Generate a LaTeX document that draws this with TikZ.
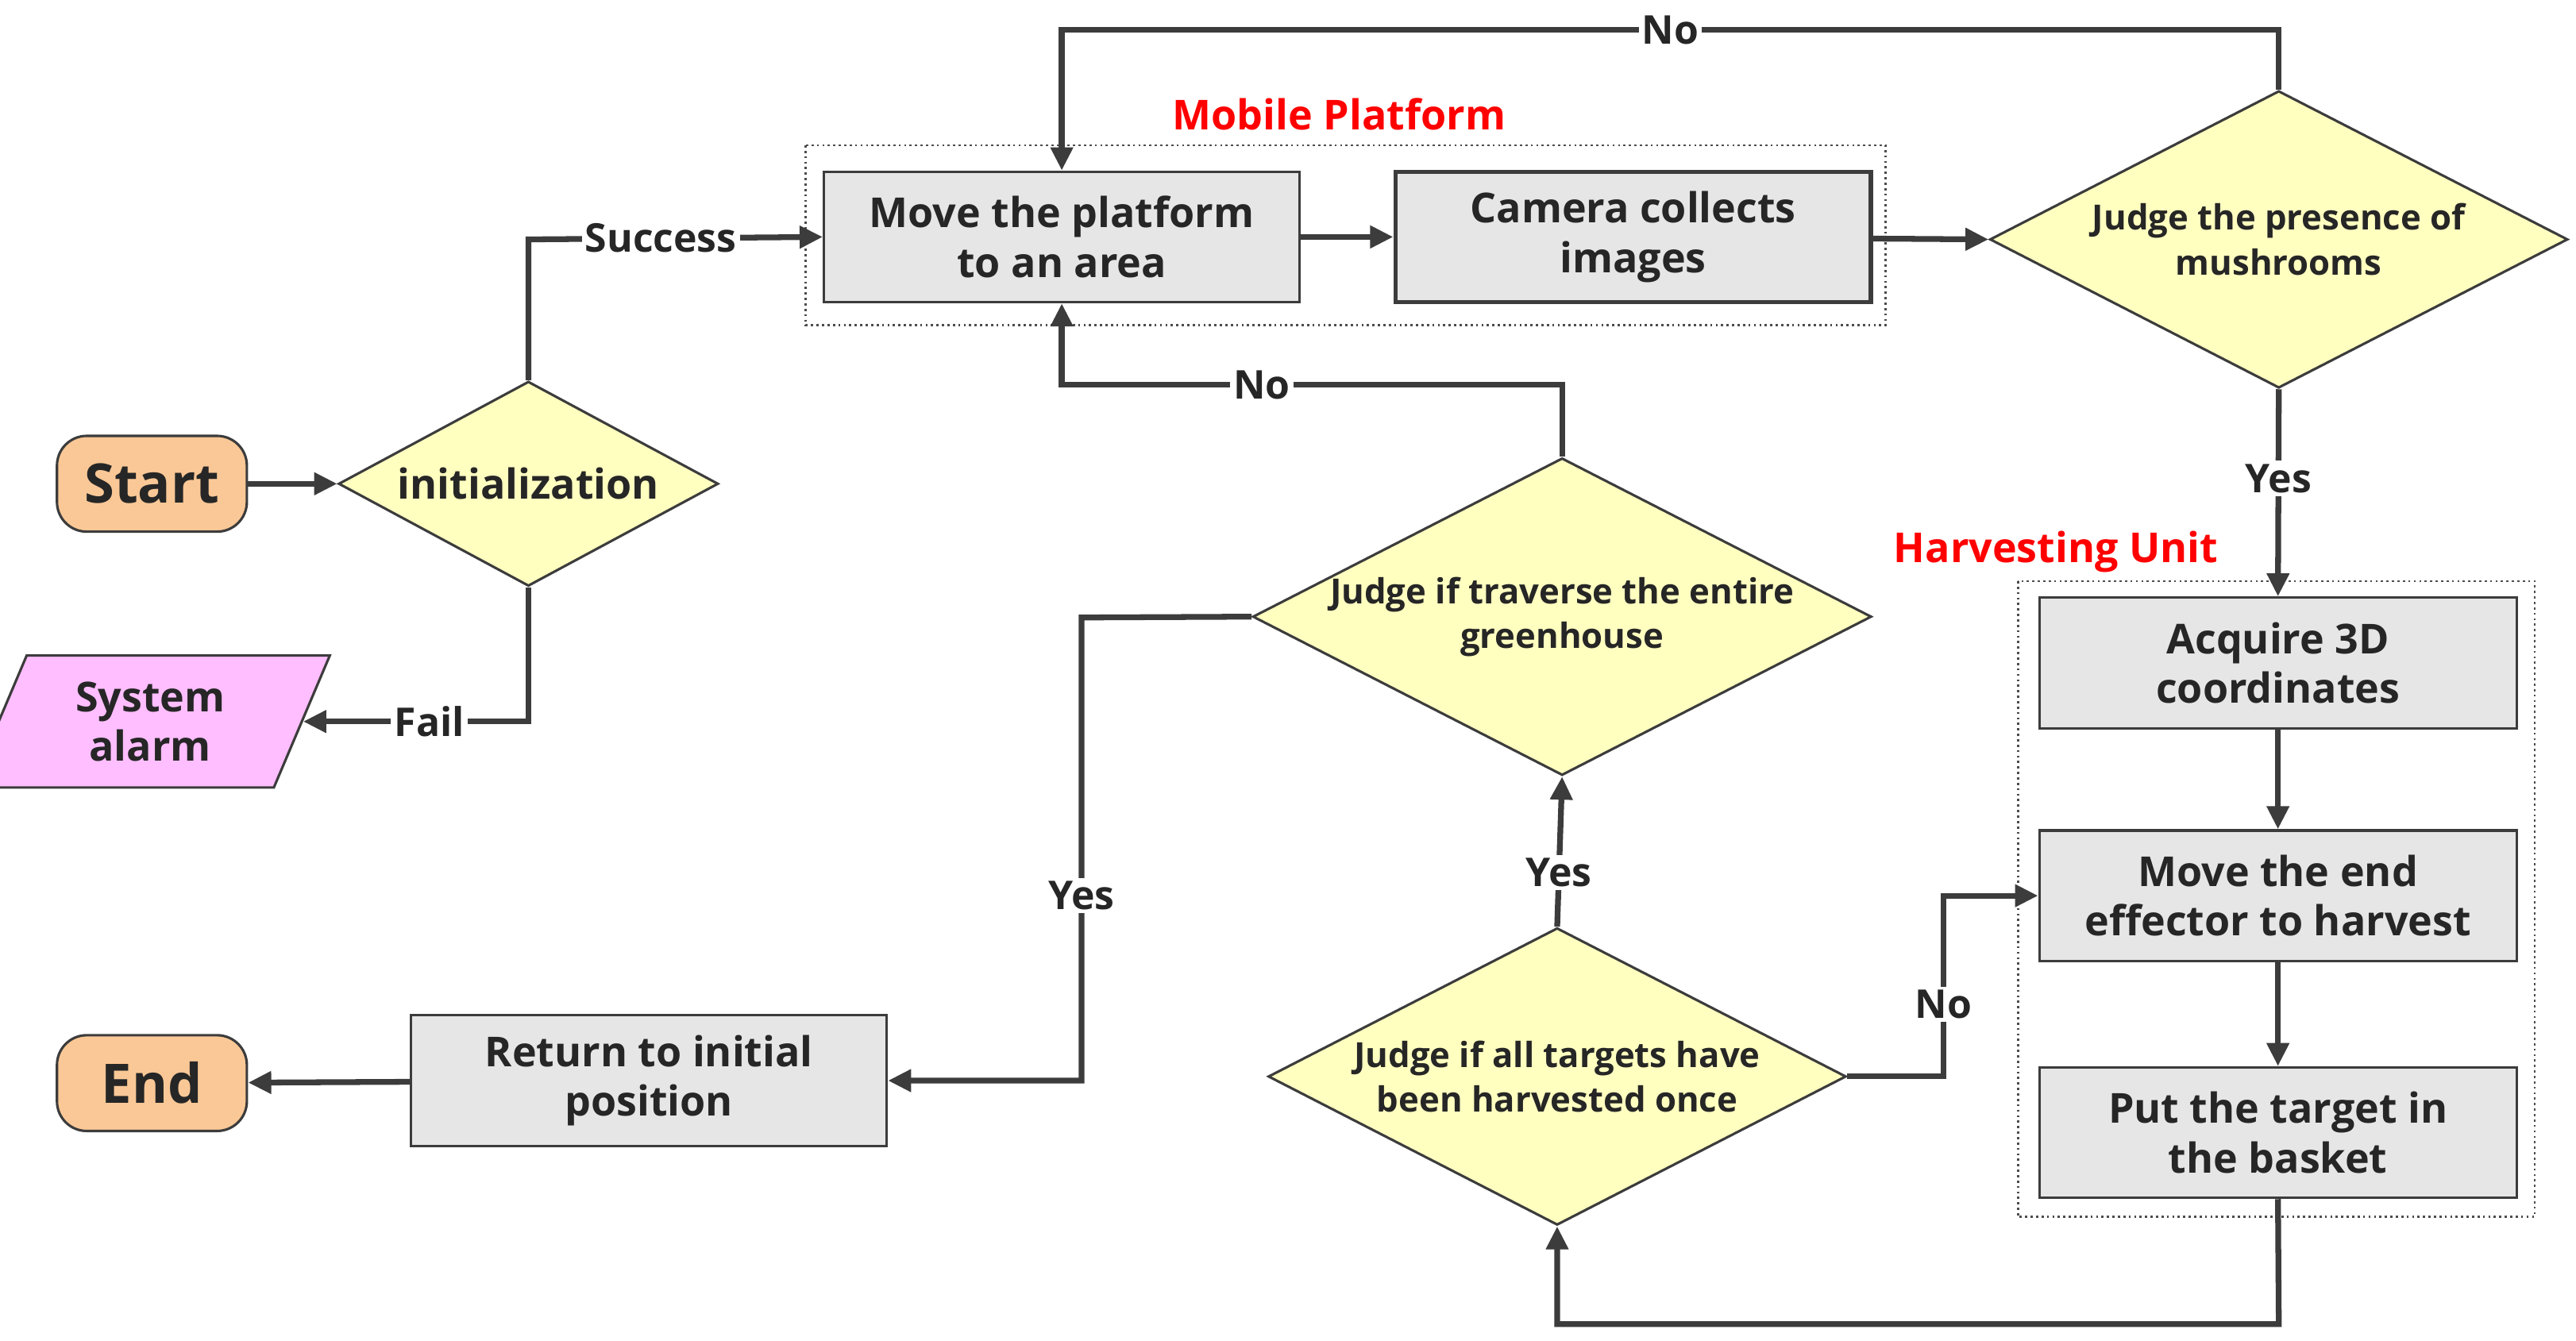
\documentclass[tikz,border=0pt]{standalone}
\usepackage{fontspec}
\setmainfont{Open Sans}
\usetikzlibrary{arrows.meta,shapes.geometric}
\definecolor{gbox}{RGB}{230,230,230}
\definecolor{ybox}{RGB}{255,255,192}
\definecolor{obox}{RGB}{250,200,150}
\definecolor{pbox}{RGB}{255,190,255}
\definecolor{lc}{RGB}{60,60,60}
\begin{document}
\begin{tikzpicture}[x=1pt,y=-1pt,
 line/.style={draw=lc,line width=3.5pt,-{Triangle[length=14pt,width=13pt]}},
 rbox/.style={draw=lc,line width=1.5pt,fill=gbox,minimum width=288pt,minimum height=79pt,align=center,font=\fontsize{25}{30}\selectfont\bfseries,text=black!85},
 dia/.style={diamond,aspect=1.95,draw=lc,line width=1.5pt,fill=ybox,inner sep=0pt,align=center,font=\fontsize{21}{27}\selectfont\bfseries,text=black!85},
 term/.style={rounded corners=18pt,draw=lc,line width=1.5pt,fill=obox,minimum width=115pt,minimum height=58pt,font=\fontsize{33}{36}\selectfont\bfseries,text=black!85},
 lab/.style={fill=white,inner sep=2pt,font=\fontsize{24}{28}\selectfont\bfseries,text=black!85},
 grp/.style={draw=black!70,dotted,line width=1.3pt},
 red/.style={text=red,font=\fontsize{25}{30}\selectfont\bfseries}]
\useasboundingbox (0,0) rectangle (1560,812);
\draw[grp] (488,88) rectangle (1142,197);
\draw[grp] (1222,352) rectangle (1535,737);
\node[red] (mp) at (811,69) {Mobile Platform};
\node[red] (hu) at (1245,334) {Harvesting Unit};
\node[term] (start) at (92,293) {Start};
\node[term] (end) at (92,656) {End};
\node[dia,minimum width=230pt,minimum height=124pt,font=\fontsize{25}{30}\selectfont\bfseries] (init) at (320,293) {initialization};
\node[trapezium,trapezium left angle=67,trapezium right angle=113,draw=lc,line width=1.5pt,fill=pbox,minimum width=157pt,minimum height=80pt,align=center,inner sep=0pt,font=\fontsize{25}{30}\selectfont\bfseries,text=black!85] (alarm) at (91,437) {System\\alarm};
\node[rbox] (move) at (643,143.5) {Move the platform\\to an area};
\node[rbox,line width=2.5pt] (cam) at (989,143.5) {Camera collects\\images};
\node[dia,minimum width=350pt,minimum height=180pt] (pres) at (1380,145) {Judge the presence of\\mushrooms};
\node[rbox,minimum width=289pt] (acq) at (1379.5,401.5) {Acquire 3D\\coordinates};
\node[rbox,minimum width=289pt] (eff) at (1379.5,542.5) {Move the end\\effector to harvest};
\node[rbox,minimum width=289pt] (put) at (1379.5,686) {Put the target in\\the  basket};
\node[dia,minimum width=350pt,minimum height=180pt] (all) at (943,652) {Judge  if all targets have\\been harvested once};
\node[dia,minimum width=350pt,minimum height=180pt] (trav) at (946,373.5) {Judge if traverse the entire\\greenhouse};
\node[rbox] (ret) at (393,654.5) {Return to initial\\position};
\coordinate (c1) at (320,145);
\draw[line] (start) -- (init);
\draw[line] (init.north) -- (c1) -- (move.west) node[lab,pos=0.45] {Success};
\draw[line] (init.south) |- (alarm.east) node[lab,pos=0.72] {Fail};
\draw[line] (move) -- (cam);
\draw[line] (cam) -- (pres.west);
\draw[line] (pres.north) -- (1380,18) -| (move.north) node[lab,pos=0.25] {No};
\draw[line] (pres.south) -- (acq.north) node[lab,pos=0.43] {Yes};
\draw[line] (acq) -- (eff);
\draw[line] (eff) -- (put);
\draw[line] (put.south) -- (1380,802) -| (all.south);
\draw[line] (all.east) -- (1177,652) |- (eff.west) node[lab,pos=0.2] {No};
\draw[line] (all.north) -- (trav.south) node[lab,pos=0.36] {Yes};
\draw[line] (trav.north) -- (946,233) -| (move.south) node[lab,pos=0.3] {No};
\draw[line] (trav.west) -- (655,374) |- (ret.east) node[lab,pos=0.3] {Yes};
\draw[line] (ret) -- (end);
\end{tikzpicture}
\end{document}
